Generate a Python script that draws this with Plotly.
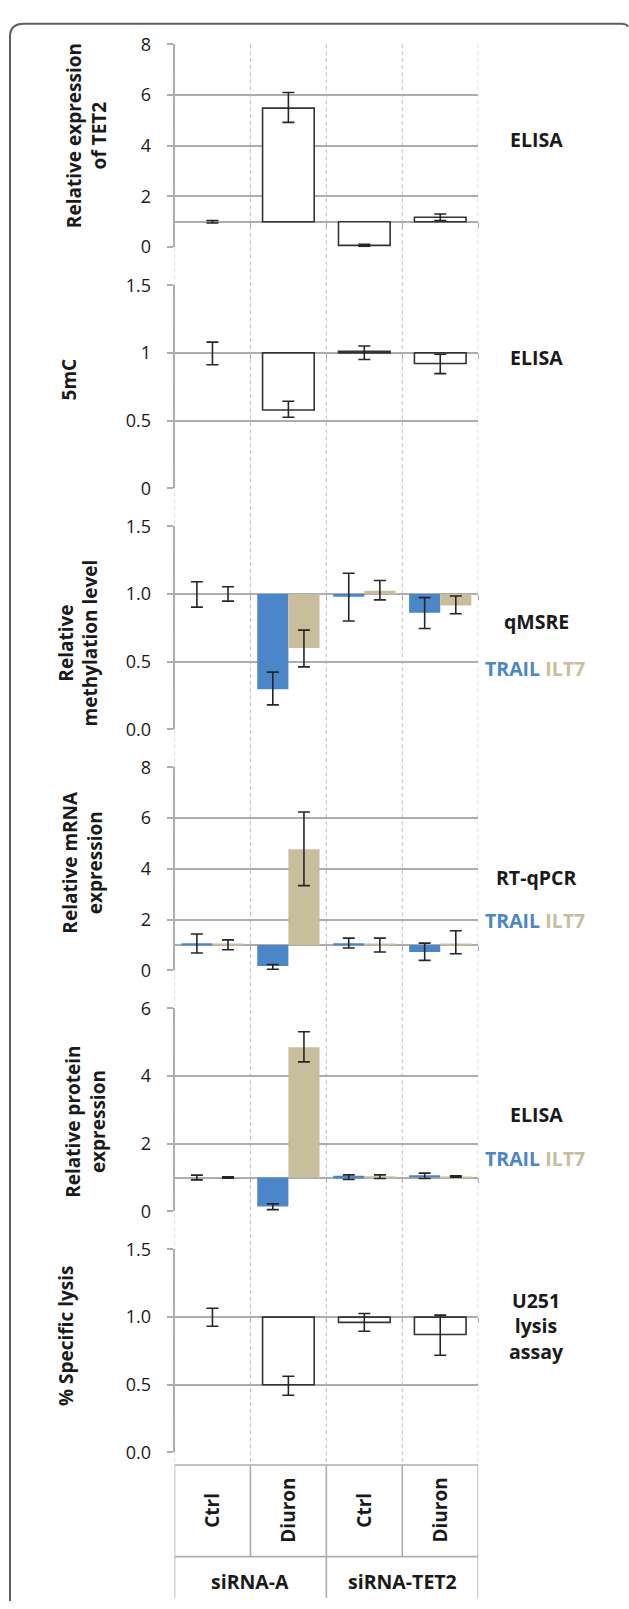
import plotly.graph_objects as go

W, H = 629, 1609

# ---------------- data ----------------
categories = ["Ctrl", "Diuron", "Ctrl", "Diuron"]
groups = ["siRNA-A", "siRNA-TET2"]

tet2 = [1.0, 5.48, 0.07, 1.18]
tet2_hi = [1.05, 6.10, 0.11, 1.31]
tet2_lo = [0.95, 4.92, 0.03, 1.05]

mc5 = [1.0, 0.578, 1.012, 0.922]
mc5_hi = [1.08, 0.643, 1.051, 0.99]
mc5_lo = [0.913, 0.524, 0.951, 0.847]

meth_trail = [1.0, 0.296, 0.98, 0.862]
meth_trail_hi = [1.09, 0.422, 1.153, 0.973]
meth_trail_lo = [0.903, 0.18, 0.80, 0.745]
meth_ilt7 = [1.0, 0.60, 1.024, 0.915]
meth_ilt7_hi = [1.053, 0.733, 1.10, 0.985]
meth_ilt7_lo = [0.947, 0.461, 0.956, 0.854]

mrna_trail = [1.07, 0.17, 1.07, 0.72]
mrna_trail_hi = [1.43, 0.23, 1.27, 1.07]
mrna_trail_lo = [0.68, 0.04, 0.88, 0.39]
mrna_ilt7 = [1.03, 4.77, 1.03, 1.05]
mrna_ilt7_hi = [1.20, 6.24, 1.27, 1.56]
mrna_ilt7_lo = [0.81, 3.34, 0.72, 0.65]

prot_trail = [1.0, 0.145, 1.05, 1.07]
prot_trail_hi = [1.07, 0.22, 1.08, 1.13]
prot_trail_lo = [0.93, 0.05, 0.94, 0.97]
prot_ilt7 = [1.0, 4.85, 1.04, 1.03]
prot_ilt7_hi = [1.02, 5.31, 1.08, 1.05]
prot_ilt7_lo = [0.98, 4.42, 0.97, 1.01]

lysis = [1.0, 0.50, 0.961, 0.871]
lysis_hi = [1.066, 0.563, 1.027, 1.015]
lysis_lo = [0.932, 0.422, 0.896, 0.718]

y_titles = ["Relative expression<br>of TET2", "5mC", "Relative<br>methylation level",
            "Relative mRNA<br>expression", "Relative protein<br>expression", "% Specific lysis"]
y_maxes = [8, 1.5, 1.5, 8, 6, 1.5]
y_dticks = [2, 0.5, 0.5, 2, 2, 0.5]
y_formats = ["", "", ".1f", "", "", ".1f"]
right_labels = ["ELISA", "ELISA", "qMSRE", "RT-qPCR", "ELISA", "U251<br>lysis<br>assay"]
baseline = 1.0  # value at which the category axis crosses

# ---------------- style ----------------
FONT = "Open Sans"
BLUE = "#4a86c8"
BEIGE = "#c9be9b"
GRID = "#adadad"
DASH = "#c8c8c8"
TEXT = "#1a1a1a"
FS_TITLE = 19
FS_TICK = 18
FS_LAB = 19.5
FS_CAT = 19

PLOT_L, PLOT_R = 174.5, 478.2
TOP0, PITCH, PH = 31.7, 244.7, 206
TABLE_TOP, TABLE_MID = 1474, 1567
LABEL_X = 536


def xp(p):
    return p / W


def yp(p):
    return 1 - p / H


fig = go.Figure()

xs = list(range(len(categories)))
bounds = [k - 0.5 for k in range(len(categories) + 1)]


def err(vals, hi, lo):
    return dict(type="data", symmetric=False,
                array=[h - v for h, v in zip(hi, vals)],
                arrayminus=[v - l for v, l in zip(vals, lo)],
                color="#262626", thickness=1.6, width=6)


def single(vals, hi, lo, n):
    fig.add_trace(go.Bar(x=xs, y=[v - baseline for v in vals], base=baseline, width=0.68,
                         marker=dict(color="white",
                                     line=dict(color="#333333",
                                               width=[0 if abs(v - baseline) < 1e-9 else 1.6
                                                      for v in vals])),
                         error_y=err(vals, hi, lo), xaxis=f"x{n}", yaxis=f"y{n}",
                         showlegend=False))


def pair(v1, h1, l1, v2, h2, l2, n):
    for vals, hi, lo, col in ((v1, h1, l1, BLUE), (v2, h2, l2, BEIGE)):
        fig.add_trace(go.Bar(x=xs, y=[v - baseline for v in vals], base=baseline,
                             marker=dict(color=col, line=dict(width=0)),
                             error_y=err(vals, hi, lo), xaxis=f"x{n}", yaxis=f"y{n}",
                             showlegend=False))


single(tet2, tet2_hi, tet2_lo, 1)
single(mc5, mc5_hi, mc5_lo, 2)
pair(meth_trail, meth_trail_hi, meth_trail_lo, meth_ilt7, meth_ilt7_hi, meth_ilt7_lo, 3)
pair(mrna_trail, mrna_trail_hi, mrna_trail_lo, mrna_ilt7, mrna_ilt7_hi, mrna_ilt7_lo, 4)
pair(prot_trail, prot_trail_hi, prot_trail_lo, prot_ilt7, prot_ilt7_hi, prot_ilt7_lo, 5)
single(lysis, lysis_hi, lysis_lo, 6)

layout = dict(width=W, height=H, margin=dict(l=0, r=0, t=0, b=0),
              paper_bgcolor="white", plot_bgcolor="rgba(0,0,0,0)",
              barmode="group", bargap=0.18, bargroupgap=0, showlegend=False,
              font=dict(family=FONT, color=TEXT))

shapes = []
annotations = []

title_pos = [(86, 125), (69, 372), (78, 640), (82.5, 862), (85.5, 1126), (66, 1343)]
label_y = [128, 350, 618, 878, 1118, 1333]
legend_y = [None, None, 665, 921, 1163, None]
legend_txt = (f"<span style='color:{BLUE}'>TRAIL</span> "
              f"<span style='color:{BEIGE}'>ILT7</span>")

for i in range(6):
    n = i + 1
    top = TOP0 + i * PITCH
    bot = top + PH
    dom = [yp(bot), yp(top)]
    base_pos = dom[0] + (dom[1] - dom[0]) * baseline / y_maxes[i]
    sfx = "" if n == 1 else str(n)
    # category axis crossing the value axis at 1, with outside ticks at boundaries
    layout[f"xaxis{sfx}"] = dict(domain=[xp(PLOT_L), xp(PLOT_R)], range=[-0.5, 3.5],
                                 anchor="free", position=base_pos, side="bottom",
                                 showticklabels=False, showgrid=False, zeroline=False,
                                 showline=True, linecolor=GRID, linewidth=1.7,
                                 ticks="outside", tickvals=bounds, ticklen=5,
                                 tickcolor=GRID, tickwidth=1.4, layer="below traces")
    layout[f"yaxis{sfx}"] = dict(domain=dom, range=[0, y_maxes[i]],
                                 anchor=f"x{n}", dtick=y_dticks[i], tick0=0,
                                 tickformat=y_formats[i], showgrid=True, gridcolor=GRID,
                                 gridwidth=1.7, zeroline=False, showline=True,
                                 linecolor=GRID, linewidth=1.6, ticks="outside",
                                 ticklen=6, tickcolor=GRID, tickwidth=1.6,
                                 ticklabelstandoff=12, layer="below traces",
                                 tickfont=dict(family=FONT, size=FS_TICK, color=TEXT))
    # axis title
    tx, ty = title_pos[i]
    annotations.append(dict(text=f"<b>{y_titles[i]}</b>", xref="paper", yref="paper",
                            x=xp(tx), y=yp(ty), xanchor="center", yanchor="middle",
                            textangle=-90, showarrow=False,
                            font=dict(family=FONT, size=FS_TITLE, color=TEXT)))
    annotations.append(dict(text=f"<b>{right_labels[i]}</b>", xref="paper", yref="paper",
                            x=xp(LABEL_X), y=yp(label_y[i]), xanchor="center",
                            yanchor="middle", showarrow=False,
                            font=dict(family=FONT, size=FS_LAB, color=TEXT)))
    if legend_y[i] is not None:
        annotations.append(dict(text=f"<b>{legend_txt}</b>", xref="paper", yref="paper",
                                x=xp(LABEL_X - 1), y=yp(legend_y[i]), xanchor="center",
                                yanchor="middle", showarrow=False,
                                font=dict(family=FONT, size=FS_LAB)))

# dashed category separators through all panels
for b in bounds:
    shapes.append(dict(type="line", xref="x6", yref="paper", x0=b, x1=b,
                       y0=yp(TOP0), y1=yp(TABLE_TOP),
                       line=dict(color=DASH, width=1.2, dash="4px,3px"), layer="below"))

# category table
shapes.append(dict(type="line", xref="x6", yref="paper", x0=-0.5, x1=3.5,
                   y0=yp(TABLE_TOP), y1=yp(TABLE_TOP), line=dict(color=GRID, width=1.6)))
shapes.append(dict(type="line", xref="x6", yref="paper", x0=-0.5, x1=3.5,
                   y0=yp(TABLE_MID), y1=yp(TABLE_MID), line=dict(color=GRID, width=1.6)))
for b in bounds[::2]:
    shapes.append(dict(type="line", xref="x6", yref="paper", x0=b, x1=b,
                       y0=yp(TABLE_TOP), y1=0, line=dict(color=GRID, width=1.6)))
for b in bounds[1::2]:
    shapes.append(dict(type="line", xref="x6", yref="paper", x0=b, x1=b,
                       y0=yp(TABLE_TOP), y1=yp(TABLE_MID), line=dict(color=GRID, width=1.6)))

for k, c in enumerate(categories):
    annotations.append(dict(text=f"<b>{c}</b>", xref="x6", yref="paper", x=k,
                            y=yp(1520), textangle=-90, showarrow=False,
                            xanchor="center", yanchor="middle",
                            font=dict(family=FONT, size=FS_CAT, color=TEXT)))
for g, gname in enumerate(groups):
    annotations.append(dict(text=f"<b>{gname}</b>", xref="x6", yref="paper",
                            x=2 * g + 0.5, y=yp(1592), showarrow=False,
                            xanchor="center", yanchor="middle",
                            font=dict(family=FONT, size=FS_LAB, color=TEXT)))

# outer rounded frame (partially cropped)
path = (f"M {xp(10)},{yp(1612)} L {xp(10)},{yp(24)} "
        f"Q {xp(10)},{yp(11)} {xp(24)},{yp(11)} "
        f"L {xp(621)},{yp(11)} Q {xp(627)},{yp(11)} {xp(628)},{yp(14)}")
shapes.append(dict(type="path", xref="paper", yref="paper", path=path,
                   line=dict(color="#5e5e5e", width=2)))

layout["shapes"] = shapes
layout["annotations"] = annotations
fig.update_layout(**layout)

fig.write_html("out.html", config={"displayModeBar": False},
               post_script="document.body.style.margin='0';"
                           "document.documentElement.style.overflow='hidden';")
